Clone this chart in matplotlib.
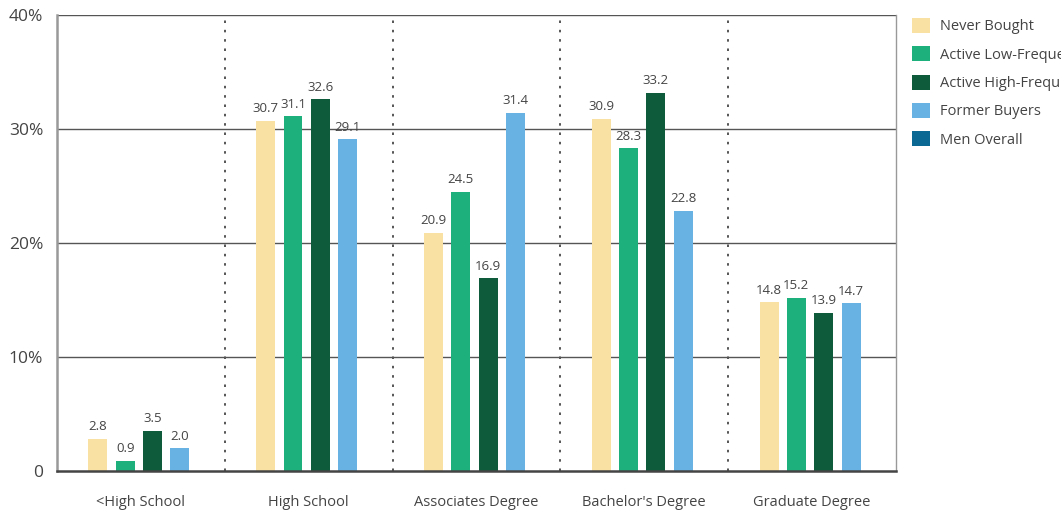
import matplotlib
matplotlib.use("Agg")
import matplotlib.pyplot as plt
from matplotlib.patches import Patch
import numpy as np

plt.rcParams['font.family'] = ['Open Sans', 'DejaVu Sans']

categories = ["<High School", "High School", "Associates Degree", "Bachelor's Degree", "Graduate Degree"]
series_names = ["Never Bought", "Active Low-Frequency Buyers", "Active High-Frequency Buyers",
                "Former Buyers", "Men Overall"]
never_bought = [2.8, 30.7, 20.9, 30.9, 14.8]
active_low = [0.9, 31.1, 24.5, 28.3, 15.2]
active_high = [3.5, 32.6, 16.9, 33.2, 13.9]
former_buyers = [2.0, 29.1, 31.4, 22.8, 14.7]
colors = ["#F9E1A3", "#1DB07D", "#0E5B3B", "#68B1E3", "#0B6892"]
y_ticks = [0, 10, 20, 30, 40]
y_tick_labels = ["0", "10%", "20%", "30%", "40%"]

series = [never_bought, active_low, active_high, former_buyers]

fig = plt.figure(figsize=(10.61, 5.14), dpi=100)
ax = fig.add_axes([57 / 1061, 1 - 471 / 514, (896 - 57) / 1061, (471 - 15) / 514])

x = np.arange(len(categories))
bar_w = 0.113
pitch = 0.163
offsets = (np.arange(len(series)) - (len(series) - 1) / 2) * pitch - 0.012

for vals, off, col in zip(series, offsets, colors):
    bars = ax.bar(x + off, vals, width=bar_w, color=col, zorder=3)
    for b, v in zip(bars, vals):
        ax.text(b.get_x() + b.get_width() / 2, v + 0.5, f"{v:.1f}",
                ha="center", va="bottom", fontsize=9.5, color="#444444", zorder=4)

ax.set_xlim(-0.5, len(categories) - 0.5)
ax.set_ylim(0, 40)
ax.set_yticks(y_ticks)
ax.set_yticklabels(y_tick_labels, fontsize=12.5, color="#444444")
ax.set_xticks(x)
ax.set_xticklabels(categories, fontsize=10.5, color="#444444")
ax.tick_params(axis="both", length=0)
ax.tick_params(axis="x", pad=17)
ax.tick_params(axis="y", pad=10)

for yv in y_ticks[1:]:
    ax.axhline(yv, color="#555555", lw=1.0, zorder=1)
for xv in x[:-1] + 0.5:
    ax.axvline(xv, color="#555555", lw=1.4, ls=(0, (1.3, 3.5)), zorder=1)

ax.spines["top"].set_visible(False)
ax.spines["left"].set_color("#999999")
ax.spines["left"].set_linewidth(1.8)
ax.spines["right"].set_color("#999999")
ax.spines["right"].set_linewidth(1.0)
ax.spines["bottom"].set_color("#444444")
ax.spines["bottom"].set_linewidth(1.8)
ax.spines["bottom"].set_zorder(5)

handles = [Patch(facecolor=c, edgecolor="none") for c in colors]
fig.legend(handles, series_names, loc="upper left", bbox_to_anchor=(912 / 1061, 1 - 18 / 514),
           frameon=False, fontsize=10.5, labelcolor="#444444", handlelength=1.2, handleheight=1.2,
           handletextpad=0.75, labelspacing=0.82, borderaxespad=0, borderpad=0)

fig.savefig("out.png", dpi=100)
